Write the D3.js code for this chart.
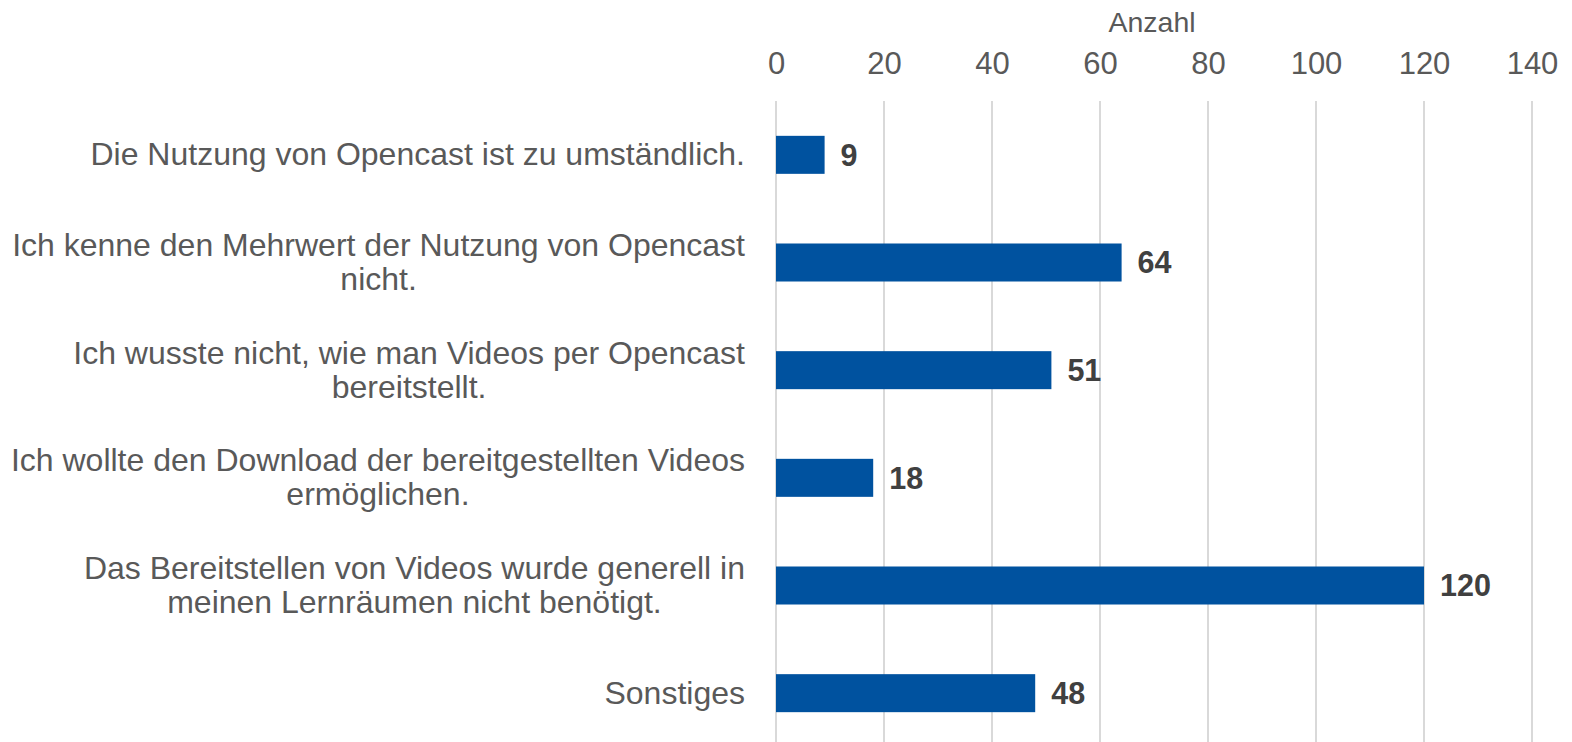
<!DOCTYPE html>
<html>
<head>
  <meta charset="utf-8">
  <title>Opencast Gründe</title>
  <script src="https://d3js.org/d3.v7.min.js"></script>
  <style>
    body { margin: 0; background: #fff; }
    text { font-family: "Liberation Sans", Arial, sans-serif; }
  </style>
</head>
<body>
  <div id="chart"></div>
  <script>
    // categories (line breaks as in the original)
    const categories = [
      "Die Nutzung von Opencast ist zu umständlich.",
      "Ich kenne den Mehrwert der Nutzung von Opencast\nnicht.",
      "Ich wusste nicht, wie man Videos per Opencast\nbereitstellt.",
      "Ich wollte den Download der bereitgestellten Videos\nermöglichen.",
      "Das Bereitstellen von Videos wurde generell in\nmeinen Lernräumen nicht benötigt.",
      "Sonstiges"
    ];
    const values = [9, 64, 51, 18, 120, 48];
    const xTicks = [0, 20, 40, 60, 80, 100, 120, 140];
    const axisTitle = "Anzahl";

    const width = 1572;
    const height = 742;
    const margin = { top: 101, right: 40, bottom: -5, left: 776 };

    const svg = d3.select("#chart")
      .append("svg")
      .attr("width", width)
      .attr("height", height);

    const x = d3.scaleLinear()
      .domain([0, 140])
      .range([margin.left, margin.left + 108 * 7]);

    const y = d3.scaleBand()
      .domain(categories)
      .range([margin.top, height - margin.bottom])
      .paddingInner(0.647)
      .paddingOuter(0.3235);

    // gridlines
    svg.append("g")
      .selectAll("line")
      .data(xTicks)
      .enter()
      .append("line")
      .attr("x1", d => x(d))
      .attr("x2", d => x(d))
      .attr("y1", margin.top)
      .attr("y2", height)
      .attr("stroke", "#d9d9d9")
      .attr("stroke-width", 2);

    // top axis labels
    const axis = svg.append("g")
      .attr("transform", `translate(0,${margin.top - 27})`)
      .call(d3.axisTop(x).tickValues(xTicks).tickSize(0).tickPadding(0));
    axis.select(".domain").remove();
    axis.selectAll("text")
      .attr("font-size", 31)
      .attr("fill", "#595959")
      .attr("font-family", "Liberation Sans, Arial, sans-serif");

    svg.append("text")
      .attr("x", (x.range()[0] + x.range()[1]) / 2 - 2)
      .attr("y", 32)
      .attr("text-anchor", "middle")
      .attr("font-size", 28.5)
      .attr("fill", "#595959")
      .text(axisTitle);

    // bars
    svg.append("g")
      .selectAll("rect")
      .data(values)
      .enter()
      .append("rect")
      .attr("x", x(0))
      .attr("y", (d, i) => y(categories[i]))
      .attr("width", d => x(d) - x(0))
      .attr("height", y.bandwidth())
      .attr("fill", "#00529f");

    // value labels
    svg.append("g")
      .selectAll("text")
      .data(values)
      .enter()
      .append("text")
      .attr("x", d => x(d) + 16)
      .attr("y", (d, i) => y(categories[i]) + y.bandwidth() / 2)
      .attr("dy", "0.36em")
      .attr("font-size", 30.5)
      .attr("font-weight", "bold")
      .attr("fill", "#404040")
      .text(d => d);

    // category labels
    const labels = svg.append("g")
      .selectAll("text")
      .data(categories)
      .enter()
      .append("text")
      .attr("text-anchor", "middle")
      .attr("font-size", 32)
      .attr("fill", "#595959")
      .each(function (d) {
        const lines = d.split("\n");
        const cy = y(d) + y.bandwidth() / 2 - 1;
        const t = d3.select(this);
        lines.forEach((line, k) => {
          t.append("tspan")
            .attr("y", cy + (k - (lines.length - 1) / 2) * 34)
            .attr("dy", "0.36em")
            .text(line);
        });
      });

    // right-align the block, centre the lines inside it
    labels.each(function () {
      const t = d3.select(this);
      const spans = t.selectAll("tspan");
      let maxW = 0;
      spans.each(function () { maxW = Math.max(maxW, this.getComputedTextLength()); });
      spans.attr("x", 745 - maxW / 2);
    });
  </script>
</body>
</html>
